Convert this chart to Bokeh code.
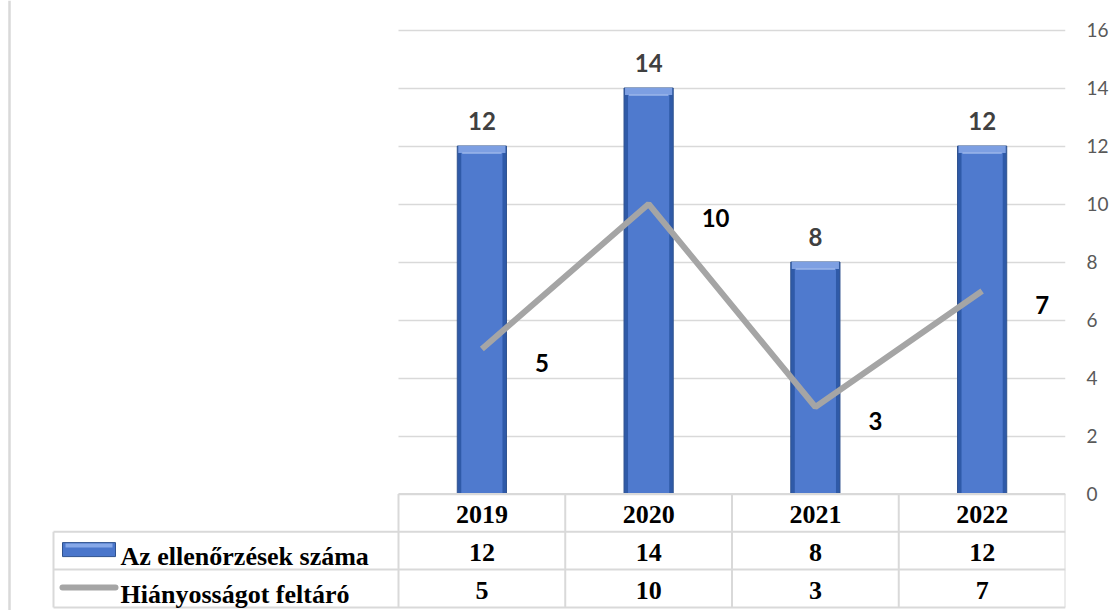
import numpy as np
from bokeh.plotting import figure
from bokeh.models import Range1d, LinearAxis, FixedTicker, ColumnDataSource, Span, Grid
from bokeh.core.properties import value
from bokeh.embed import file_html
from bokeh.resources import INLINE

# ---- data ----
years = ["2019", "2020", "2021", "2022"]
checks = [12, 14, 8, 12]
findings = [5, 10, 3, 7]
series_names = ["Az ellenőrzések száma", "Hiányosságot feltáró"]
y_ticks = [0, 2, 4, 6, 8, 10, 12, 14, 16]

# ---- layout constants (pixels) ----
W, H = 1112, 610
FRAME_R = 1065
RB = W - FRAME_R
CAT_PX = 166.75
X0_PX = 398.0
PX = 29.0
Y0_PX = 493.5
ROW_PX = 37.8

x_start = -X0_PX / CAT_PX
x_end = (FRAME_R - X0_PX) / CAT_PX
y_end = Y0_PX / PX
y_start = -(H - Y0_PX) / PX
rh = ROW_PX / PX
n = len(years)
xs = np.arange(n) + 0.5
xl = (53 - X0_PX) / CAT_PX

p = figure(width=W, height=H, output_backend="svg", toolbar_location=None,
           x_range=Range1d(x_start, x_end), y_range=Range1d(y_start, y_end),
           x_axis_location=None, y_axis_location=None,
           min_border_left=0, min_border_top=0, min_border_bottom=0,
           min_border_right=RB, background_fill_color="white",
           border_fill_color="white")
p.outline_line_color = None
p.xgrid.visible = False
p.ygrid.visible = False

grid = Grid(dimension=1, ticker=FixedTicker(ticks=y_ticks), cross_bounds=(0, n),
            grid_line_color="#d9d9d9", grid_line_width=1.5)
p.add_layout(grid)

ax = LinearAxis(ticker=FixedTicker(ticks=y_ticks))
ax.axis_line_color = None
ax.major_tick_line_color = None
ax.minor_tick_line_color = None
ax.major_tick_out = 0
ax.major_tick_in = 0
ax.major_label_standoff = 21
ax.major_label_text_font = "Lato"
ax.major_label_text_font_size = "19px"
ax.major_label_text_color = "#595959"
p.add_layout(ax, "right")

# ---- bars (bevelled look) ----
bw = 0.295
src = ColumnDataSource(dict(x=xs, top=checks, lbl=[str(v) for v in checks],
                            inner_top=np.array(checks) - 5 / PX,
                            bevel_bot=np.array(checks) - 7 / PX))
p.vbar(x="x", top="top", bottom=0, width=bw, source=src,
       fill_color="#2f5aa8", line_color="#2f528f", line_width=1)
p.vbar(x="x", top="inner_top", bottom=0, width=bw - 8 / CAT_PX, source=src,
       fill_color="#4f7ace", line_color=None)
p.vbar(x="x", top="top", bottom="bevel_bot", width=bw - 2 / CAT_PX, source=src,
       fill_color="#7d9fe2", line_color=None)
p.vbar(x="x", top="bevel_bot", bottom="bevel_bot", width=bw - 10 / CAT_PX, source=src,
       fill_color=None, line_color="#9ab5ea", line_width=1)

# ---- line ----
lsrc = ColumnDataSource(dict(x=xs, y=findings, lbl=[str(v) for v in findings]))
p.line(x="x", y="y", source=lsrc, line_color="#a5a5a5", line_width=6)

# ---- data labels ----
p.text(x="x", y="top", text="lbl", source=src, text_align="center",
       text_baseline="middle", y_offset=-25, text_font=value("Lato"),
       text_font_style="bold", text_font_size="24px", text_color="#404040")
p.text(x="x", y="y", text="lbl", source=lsrc, text_align="left",
       text_baseline="middle", x_offset=53, y_offset=14, text_font=value("Lato"),
       text_font_style="bold", text_font_size="24px", text_color="#000000")

# ---- data table ----
tc = "#d9d9d9"
tw = 2
p.segment(x0=list(np.arange(n + 1)), y0=[0] * (n + 1),
          x1=list(np.arange(n + 1)), y1=[-3 * rh] * (n + 1),
          line_color=tc, line_width=tw)
p.segment(x0=[xl], y0=[-rh], x1=[xl], y1=[-3 * rh], line_color=tc, line_width=tw)
p.segment(x0=[0, xl, xl, xl], y0=[0, -rh, -2 * rh, -3 * rh],
          x1=[n, n, n, n], y1=[0, -rh, -2 * rh, -3 * rh],
          line_color=tc, line_width=tw)

font_t = value("Liberation Serif")
tsrc = ColumnDataSource(dict(
    x=list(xs) * 3,
    y=[-0.5 * rh] * n + [-1.5 * rh] * n + [-2.5 * rh] * n,
    t=years + [str(v) for v in checks] + [str(v) for v in findings]))
p.text(x="x", y="y", text="t", source=tsrc, text_align="center",
       text_baseline="middle", y_offset=2, text_font=font_t,
       text_font_style="bold", text_font_size="26px", text_color="#000000")

# legend column
lx = (120 - X0_PX) / CAT_PX
p.text(x=[lx, lx], y=[-1.5 * rh, -2.5 * rh], text=series_names,
       text_align="left", text_baseline="middle", y_offset=6,
       text_font=font_t, text_font_style="bold", text_font_size="26px",
       text_color="#000000")
icx0 = (62 - X0_PX) / CAT_PX
icx1 = (115 - X0_PX) / CAT_PX
p.quad(left=[icx0], right=[icx1], bottom=[-2 * rh + 13 / PX], top=[-2 * rh + 27 / PX],
       fill_color="#4a76cb", line_color="#2f528f", line_width=1)
p.quad(left=[icx0 + 3 / CAT_PX], right=[icx1 - 3 / CAT_PX],
       bottom=[-2 * rh + 22 / PX], top=[-2 * rh + 26 / PX],
       fill_color="#86a8e8", line_color=None)
p.line(x=[(62 - X0_PX) / CAT_PX, (115 - X0_PX) / CAT_PX],
       y=[-3 * rh + 20 / PX] * 2, line_color="#a5a5a5", line_width=6,
       line_cap="round")

# left edge line
p.add_layout(Span(location=(9 - X0_PX) / CAT_PX, dimension="height",
                  line_color="#d9d9d9", line_width=2.5))

open("out.html", "w").write(file_html(p, INLINE))
